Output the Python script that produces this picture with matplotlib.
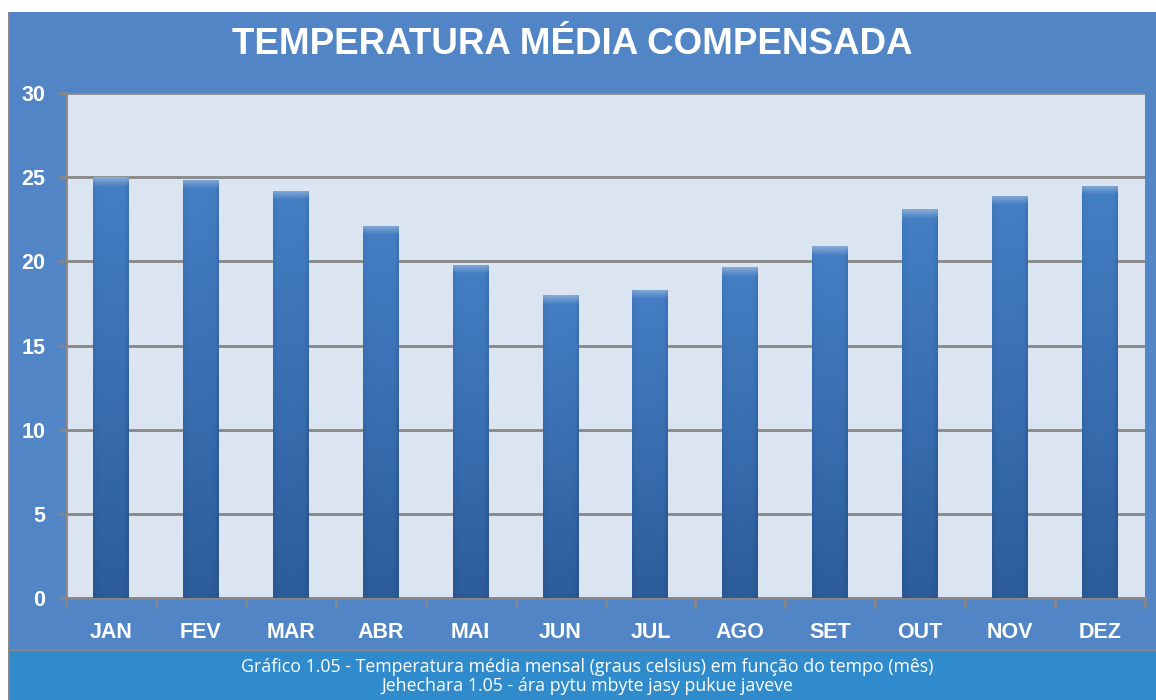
import numpy as np
import matplotlib.pyplot as plt
from matplotlib.patches import Rectangle
from matplotlib.colors import LinearSegmentedColormap

meses = ["JAN", "FEV", "MAR", "ABR", "MAI", "JUN", "JUL", "AGO", "SET", "OUT", "NOV", "DEZ"]
temperatura = [25.0, 24.85, 24.2, 22.1, 19.8, 18.0, 18.3, 19.65, 20.9, 23.1, 23.9, 24.5]
yticks = [0, 5, 10, 15, 20, 25, 30]

titulo = "TEMPERATURA MÉDIA COMPENSADA"
legenda1 = "Gráfico 1.05 - Temperatura média mensal (graus celsius) em função do tempo (mês)"
legenda2 = "Jehechara 1.05 - ára pytu mbyte jasy pukue javeve"

painel = "#5185c6"
faixa = "#2f8bcc"
fundo = "#dae5f1"
cinza = "#878787"

W, H = 1156, 700
fig = plt.figure(figsize=(W / 100, H / 100), dpi=100)
fig.patch.set_facecolor("white")

# painel azul e faixa da legenda
fig.patches.append(Rectangle((8 / W, 50 / H), 1 - 8 / W, (688 - 50) / H,
                             transform=fig.transFigure, facecolor=painel, edgecolor="none", zorder=-3))
fig.patches.append(Rectangle((8 / W, 0), 1 - 8 / W, 50 / H,
                             transform=fig.transFigure, facecolor=faixa, edgecolor="none", zorder=-3))
fig.patches.append(Rectangle((8 / W, 0), 2 / W, 688 / H,
                             transform=fig.transFigure, facecolor=cinza, edgecolor="none", zorder=-2))
fig.patches.append(Rectangle((8 / W, 49 / H), 1 - 8 / W, 2 / H,
                             transform=fig.transFigure, facecolor=cinza, edgecolor="none", zorder=-2))

ax = fig.add_axes([66 / W, 102 / H, (1145 - 66) / W, (607 - 102) / H])
ax.set_zorder(1)
ax.set_facecolor(fundo)

x = np.arange(len(meses))
largura = 0.4

# degradê das barras
cmap_v = LinearSegmentedColormap.from_list("barra", ["#2a5793", "#386eb0", "#4680c6"])
ny, nx = 400, 40
vert = np.linspace(0, 1, ny)[:, None]
horiz = np.linspace(-1, 1, nx)[None, :]
for xi, v in zip(x, temperatura):
    rect = ax.bar(xi, v, width=largura, color="none", edgecolor="none", zorder=3)[0]
    img = np.clip(vert * 0.85 + 0.1, 0, 1) - 0.18 * np.abs(horiz) ** 6 - 0.1 * (horiz > 0.85)
    img = np.clip(img, 0, 1)
    rgba = cmap_v(img)
    # bisel claro no topo
    d = (1 - vert[:, 0]) * v
    brilho = np.clip(1 - d / 0.55, 0, 1) * 0.35
    rgba[:, :, :3] = rgba[:, :, :3] + (1 - rgba[:, :, :3]) * brilho[:, None, None]
    im = ax.imshow(rgba, extent=(xi - largura / 2, xi + largura / 2, 0, v),
                   origin="lower", aspect="auto", zorder=3)
    im.set_clip_path(rect)

ax.set_xlim(-0.5, len(meses) - 0.5)
ax.set_ylim(0, 30)
ax.set_yticks(yticks)
ax.set_yticklabels([str(t) for t in yticks])
ax.set_xticks(x)
ax.set_xticklabels(meses)
ax.set_xticks(np.arange(-0.5, len(meses), 1), minor=True)
ax.grid(axis="y", color=cinza, linewidth=2, zorder=1)
ax.set_axisbelow(True)

for lado in ["top", "right"]:
    ax.spines[lado].set_visible(False)
for lado in ["left", "bottom"]:
    ax.spines[lado].set_color(cinza)
    ax.spines[lado].set_linewidth(2)

ax.tick_params(axis="x", which="major", length=0, pad=17)
ax.tick_params(axis="x", which="minor", length=7, width=2, color=cinza, direction="out")
ax.tick_params(axis="y", length=6, width=2, color=cinza, pad=9)
for lab in ax.get_xticklabels() + ax.get_yticklabels():
    lab.set_fontfamily("Liberation Sans")
    lab.set_fontweight("bold")
    lab.set_fontsize(15.5)
    lab.set_color("white")

fig.text(572 / W, 1 - 45 / H, titulo, ha="center", va="center", color="white",
         fontsize=26.5, fontweight="bold", family="Liberation Sans")
fig.text(587 / W, 1 - 667 / H, legenda1, ha="center", va="center", color="white",
         fontsize=12.8, family="Open Sans")
fig.text(587 / W, 1 - 686 / H, legenda2, ha="center", va="center", color="white",
         fontsize=12.8, family="Open Sans")

fig.savefig("out.png", dpi=100)
